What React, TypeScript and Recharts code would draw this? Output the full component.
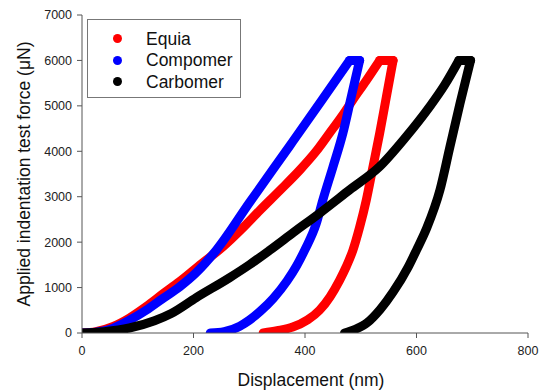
import React from 'react';
import { LineChart, Line, XAxis, YAxis } from 'recharts';

// ---- data (displacement nm, force µN) ----
const equiaLoadX = [0, 25, 55, 85, 115, 145, 175, 215, 253, 285, 319, 355, 391, 420, 444, 466, 486, 510, 534];
const equiaLoadF = [0, 30, 140, 330, 580, 860, 1130, 1530, 1900, 2270, 2700, 3140, 3591, 4000, 4400, 4770, 5136, 5560, 6000];
const equiaHoldX = [534, 558];
const equiaHoldF = [6000, 6000];
const equiaUnloadX = [325, 350, 378, 405, 426, 445, 462, 474, 486, 498, 510, 521, 534, 546, 558];
const equiaUnloadF = [0, 50, 130, 290, 500, 800, 1160, 1460, 1825, 2330, 2929, 3600, 4400, 5200, 6000];

const compomerLoadX = [0, 25, 55, 85, 115, 145, 175, 205, 241, 301, 372, 430, 480];
const compomerLoadF = [0, 20, 100, 280, 500, 760, 1015, 1330, 1825, 2880, 4110, 5120, 6000];
const compomerHoldX = [480, 498];
const compomerHoldF = [6000, 6000];
const compomerUnloadX = [230, 255, 283, 300, 320, 343, 368, 385, 399.5, 420, 432, 450, 468, 483, 498];
const compomerUnloadF = [0, 30, 150, 280, 480, 760, 1150, 1480, 1825, 2400, 2929, 3650, 4400, 5200, 6000];

const carbomerLoadX = [0, 40, 85, 130, 160, 205, 265, 300, 337, 380, 426, 480, 534, 580, 624, 650, 676];
const carbomerLoadF = [0, 30, 110, 270, 430, 780, 1220, 1500, 1825, 2220, 2635, 3150, 3664, 4300, 4988, 5450, 6000];
const carbomerHoldX = [676, 697];
const carbomerHoldF = [6000, 6000];
const carbomerUnloadX = [471, 490, 512, 535, 558, 585, 600, 618, 642, 660, 678, 697];
const carbomerUnloadF = [0, 80, 230, 520, 900, 1450, 1825, 2300, 3145, 4100, 5050, 6000];

const xTicks = [0, 200, 400, 600, 800];
const yTicks = [0, 1000, 2000, 3000, 4000, 5000, 6000, 7000];

const seriesNames = ['Equia', 'Compomer', 'Carbomer'];
const seriesColors = ['#ff0000', '#0000ff', '#000000'];

const toPts = (xs: number[], fs: number[]) => xs.map((x, i) => ({ x, f: fs[i] }));

const curves = [
  { load: toPts(equiaLoadX, equiaLoadF), hold: toPts(equiaHoldX, equiaHoldF), unload: toPts(equiaUnloadX, equiaUnloadF) },
  { load: toPts(compomerLoadX, compomerLoadF), hold: toPts(compomerHoldX, compomerHoldF), unload: toPts(compomerUnloadX, compomerUnloadF) },
  { load: toPts(carbomerLoadX, carbomerLoadF), hold: toPts(carbomerHoldX, carbomerHoldF), unload: toPts(carbomerUnloadX, carbomerUnloadF) },
];

const FONT = '"Liberation Sans", Arial, sans-serif';
const AXIS_COLOR = '#555555';

const seg = (key: string, data: { x: number; f: number }[], color: string, type: 'monotone' | 'linear') => (
  <Line
    key={key}
    xAxisId="b"
    yAxisId="l"
    data={data}
    dataKey="f"
    type={type}
    stroke={color}
    strokeWidth={9}
    strokeLinecap="round"
    strokeLinejoin="round"
    dot={false}
    activeDot={false}
    isAnimationActive={false}
  />
);

export default function App() {
  return (
    <div style={{ position: 'absolute', left: 0, top: 0, width: 544, height: 391, background: '#fff', fontFamily: FONT }}>
      <LineChart width={544} height={391} margin={{ top: 15, right: 16, left: 20, bottom: 18 }}>
        <XAxis
          xAxisId="b"
          type="number"
          dataKey="x"
          domain={[0, 800]}
          ticks={xTicks}
          allowDataOverflow
          height={40}
          tickSize={5}
          tickMargin={8}
          stroke={AXIS_COLOR}
          tick={{ fill: '#222', fontSize: 12.5, fontFamily: FONT }}
          label={{
            content: () => (
              <text x={311} y={386} textAnchor="middle" fontSize={17.5} fontFamily={FONT} fill="#111">
                Displacement (nm)
              </text>
            ),
          }}
        />
        <XAxis xAxisId="t" orientation="top" type="number" domain={[0, 800]} height={0} tick={false} tickLine={false} stroke={AXIS_COLOR} />
        <YAxis
          yAxisId="l"
          type="number"
          domain={[0, 7000]}
          ticks={yTicks}
          allowDataOverflow
          width={62}
          tickSize={5}
          tickMargin={5}
          stroke={AXIS_COLOR}
          tick={{ fill: '#222', fontSize: 12.5, fontFamily: FONT }}
          label={{
            content: () => (
              <text x={30} y={174} textAnchor="middle" fontSize={17.5} fontFamily={FONT} fill="#111" transform="rotate(-90, 30, 174)">
                Applied indentation test force (μN)
              </text>
            ),
          }}
        />
        <YAxis yAxisId="r" orientation="right" type="number" domain={[0, 7000]} width={0} tick={false} tickLine={false} stroke={AXIS_COLOR} />
        {curves.map((c, i) => [
          seg(`l${i}`, c.load, seriesColors[i], 'monotone'),
          seg(`h${i}`, c.hold, seriesColors[i], 'linear'),
          seg(`u${i}`, c.unload, seriesColors[i], 'monotone'),
        ])}
      </LineChart>
      <div
        style={{
          position: 'absolute',
          left: 87,
          top: 19,
          width: 154,
          height: 79,
          border: '1px solid #777',
          background: '#fff',
          boxSizing: 'border-box',
        }}
      >
        {seriesNames.map((name, i) => (
          <div key={name} style={{ position: 'absolute', left: 0, top: 8.7 + i * 21.5, height: 20, width: 150 }}>
            <div
              style={{
                position: 'absolute',
                left: 24.5,
                top: 5.5,
                width: 9,
                height: 9,
                borderRadius: '50%',
                background: seriesColors[i],
              }}
            />
            <div
              style={{
                position: 'absolute',
                left: 58,
                top: 0,
                lineHeight: '20px',
                fontSize: 17.5,
                color: '#111',
                fontFamily: FONT,
                whiteSpace: 'nowrap',
              }}
            >
              {name}
            </div>
          </div>
        ))}
      </div>
    </div>
  );
}
